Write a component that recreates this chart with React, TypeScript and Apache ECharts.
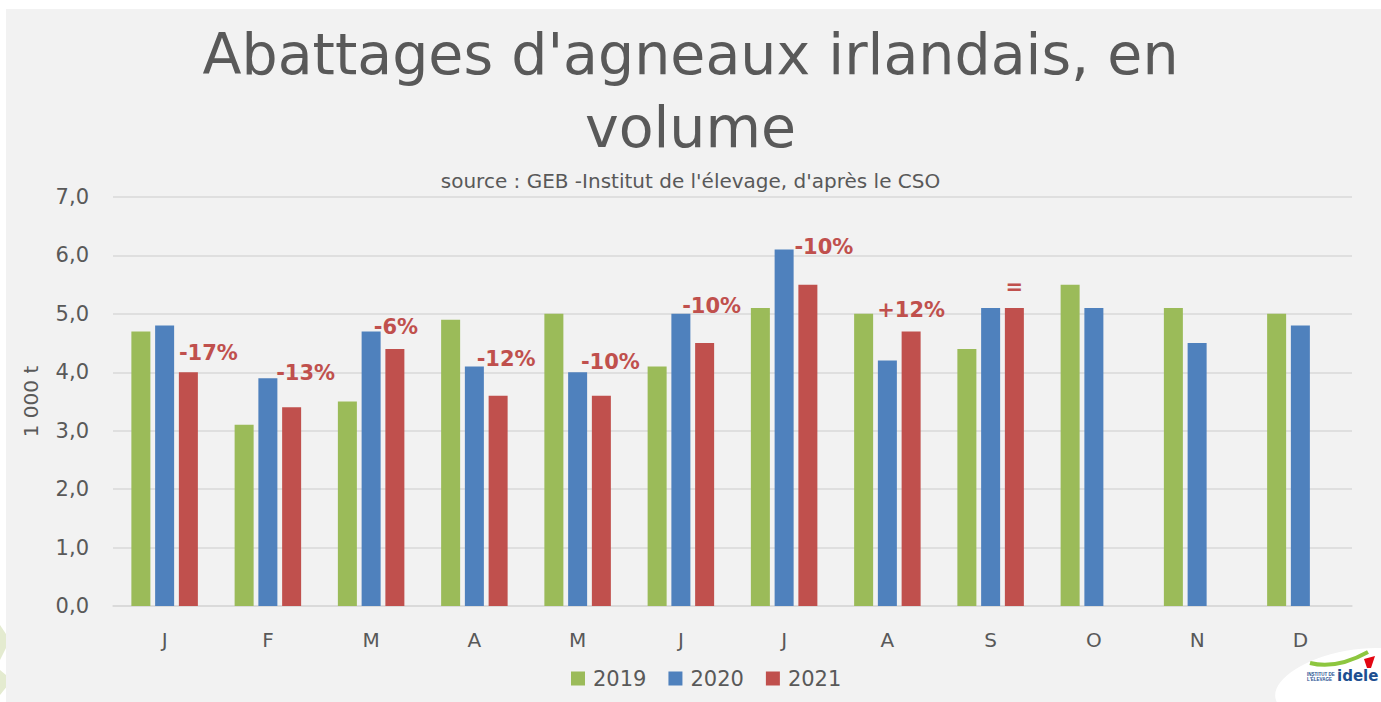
import React, { useEffect, useRef } from "react";
import * as echarts from "echarts";

const months = ["J", "F", "M", "A", "M", "J", "J", "A", "S", "O", "N", "D"];
const years = ["2019", "2020", "2021"];
const v2019 = [4.7, 3.1, 3.5, 4.9, 5.0, 4.1, 5.1, 5.0, 4.4, 5.5, 5.1, 5.0];
const v2020 = [4.8, 3.9, 4.7, 4.1, 4.0, 5.0, 6.1, 4.2, 5.1, 5.1, 4.5, 4.8];
const v2021: (number | null)[] = [4.0, 3.4, 4.4, 3.6, 3.6, 4.5, 5.5, 4.7, 5.1, null, null, null];
const changeLabels = ["-17%", "-13%", "-6%", "-12%", "-10%", "-10%", "-10%", "+12%", "=", "", "", ""];
const yTicks = [0, 1, 2, 3, 4, 5, 6, 7];

const labelNudges: [number, number][] = [
  [20, -4], [14, -19], [1, -6], [8, -21], [9, -18], [7, -22], [16, -22], [0, -6], [0, -6],
  [0, 0], [0, 0], [0, 0],
];

const GREEN = "#9BBB59";
const BLUE = "#4F81BD";
const RED = "#C0504D";
const TXT = "#595959";
const FONT = "'DejaVu Sans', sans-serif";

export default function App() {
  const ref = useRef<HTMLDivElement>(null);
  useEffect(() => {
    if (!ref.current) return;
    const chart = echarts.init(ref.current, null, { renderer: "svg" });
    const colors = [GREEN, BLUE, RED];
    const datasets = [v2019, v2020, v2021];
    chart.setOption({
      animation: false,
      backgroundColor: "#FFFFFF",
      textStyle: { fontFamily: FONT },
      title: [
        {
          text: "Abattages d'agneaux irlandais, en\nvolume",
          left: "center",
          top: 12,
          textStyle: { fontFamily: FONT, fontSize: 57, fontWeight: "normal", color: TXT, lineHeight: 73 },
        },
        {
          text: "source : GEB -Institut de l'élevage, d'après le CSO",
          left: "center",
          top: 166,
          textStyle: { fontFamily: FONT, fontSize: 20, fontWeight: "normal", color: TXT },
        },
      ],
      graphic: [
        { type: "polygon", z: -12, shape: { points: [[0, 625], [10, 640], [0, 660]] }, style: { fill: "#E4EBD0" } },
        { type: "polygon", z: -12, shape: { points: [[0, 670], [12, 680], [0, 695]] }, style: { fill: "#E4EBD0" } },
        { type: "rect", z: -10, shape: { x: 6, y: 9, width: 1375, height: 693 }, style: { fill: "#F2F2F2" } },
        {
          type: "ellipse",
          z: 10,
          shape: { cx: 1352, cy: 684, rx: 78, ry: 34 },
          rotation: 0.18,
          originX: 1352,
          originY: 684,
          style: { fill: "#FFFFFF" },
        },
        {
          type: "bezierCurve",
          z: 11,
          shape: { x1: 1310, y1: 663, x2: 1368, y2: 652, cpx1: 1330, cpy1: 668, cpx2: 1350, cpy2: 662 },
          style: { stroke: "#8DC63F", lineWidth: 4, fill: null },
        },
        {
          type: "polygon",
          z: 11,
          shape: { points: [[1364, 659], [1375, 656], [1371, 668], [1367, 668]] },
          style: { fill: "#E30613" },
        },
        {
          type: "text",
          z: 11,
          x: 1337,
          y: 668,
          style: { text: "idele", fontFamily: FONT, fontSize: 15, fontWeight: "bold", fill: "#1D4F91" },
        },
        {
          type: "text",
          z: 11,
          x: 1307,
          y: 672,
          style: {
            text: "INSTITUT DE\nL'ÉLEVAGE",
            fontFamily: "'Liberation Sans Narrow', 'Liberation Sans', sans-serif",
            fontSize: 4.5,
            fontWeight: "bold",
            fill: "#1D4F91",
            lineHeight: 5,
          },
        },
      ],
      legend: {
        data: years,
        top: 663,
        left: 566,
        itemWidth: 14,
        itemHeight: 14,
        itemGap: 22,
        icon: "rect",
        textStyle: { fontFamily: FONT, fontSize: 21, color: TXT, padding: [0, 0, 0, 3] },
      },
      grid: { left: 113, right: 29, top: 197, bottom: 96 },
      xAxis: {
        type: "category",
        data: months,
        axisLine: { lineStyle: { color: "#D9D9D9", width: 1.5 } },
        axisTick: { show: false },
        axisLabel: { fontFamily: FONT, fontSize: 20, color: TXT, margin: 24 },
      },
      yAxis: {
        type: "value",
        min: yTicks[0],
        max: yTicks[yTicks.length - 1],
        interval: 1,
        name: "1 000 t",
        nameLocation: "middle",
        nameRotate: 90,
        nameGap: 72,
        nameTextStyle: { fontFamily: FONT, fontSize: 20, color: TXT },
        axisLine: { show: false },
        axisTick: { show: false },
        axisLabel: {
          fontFamily: FONT,
          fontSize: 21,
          color: TXT,
          margin: 24,
          formatter: (v: number) => v.toFixed(1).replace(".", ","),
        },
        splitLine: { lineStyle: { color: "#D9D9D9", width: 1.5 } },
      },
      series: years.map((y, i) => ({
        name: y,
        type: "bar",
        data: datasets[i],
        barWidth: 19,
        barGap: "25%",
        itemStyle: { color: colors[i] },
        label:
          i === 2
            ? {
                show: true,
                position: "top",
                distance: 5,
                fontFamily: FONT,
                fontSize: 21,
                fontWeight: "bold",
                color: RED,
                formatter: (p: any) => changeLabels[p.dataIndex] || "",
              }
            : { show: false },
        labelLayout: i === 2 ? (p: any) => ({ dx: labelNudges[p.dataIndex][0], dy: labelNudges[p.dataIndex][1] }) : undefined,
      })),
    });
    return () => chart.dispose();
  }, []);
  return (
    <div
      ref={ref}
      style={{ position: "fixed", left: 0, top: 0, width: 1381, height: 702 }}
    />
  );
}
